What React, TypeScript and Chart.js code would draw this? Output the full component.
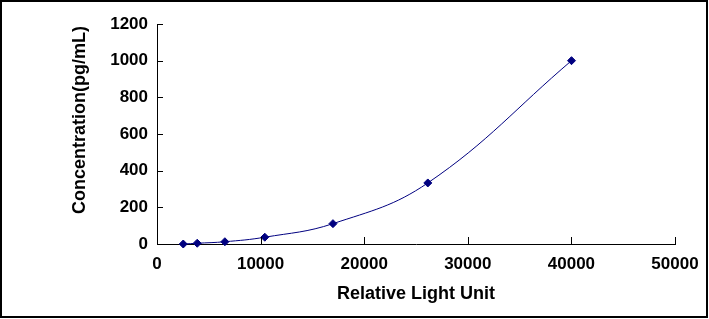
import React, { useEffect, useRef } from "react";
import { Chart, registerables } from "chart.js";

Chart.register(...registerables);

const rluValues = [2534, 3883, 6551, 10405, 16985, 26140, 40010];
const concentrations = [0, 4.1, 12.3, 37, 111, 333, 1000];
const xTickValues = [0, 10000, 20000, 30000, 40000, 50000];
const yTickValues = [0, 200, 400, 600, 800, 1000, 1200];
const xTitle = "Relative Light Unit";
const yTitle = "Concentration(pg/mL)";

const FONT = "'Liberation Sans', Arial, Helvetica, sans-serif";
const NAVY = "#000080";

const axisDecor = {
  id: "axisDecor",
  afterDraw(chart: any) {
    const ctx = chart.ctx;
    const xs = chart.scales.x;
    const ys = chart.scales.y;
    const area = chart.chartArea;
    ctx.save();
    ctx.strokeStyle = "#000";
    ctx.lineWidth = 1;
    ctx.beginPath();
    xs.ticks.forEach((t: any) => {
      const px = Math.round(xs.getPixelForValue(t.value)) + 0.5;
      ctx.moveTo(px, area.bottom);
      ctx.lineTo(px, area.bottom - 7);
    });
    ys.ticks.forEach((t: any) => {
      const py = Math.round(ys.getPixelForValue(t.value)) + 0.5;
      ctx.moveTo(area.left, py);
      ctx.lineTo(area.left + 6, py);
    });
    ctx.stroke();

    ctx.fillStyle = "#000";
    ctx.font = `bold 18px ${FONT}`;
    ctx.textAlign = "center";
    ctx.textBaseline = "alphabetic";
    ctx.fillText(xTitle, (area.left + area.right) / 2, area.bottom + 55);

    ctx.translate(area.left - 72, area.top + 96);
    ctx.rotate(-Math.PI / 2);
    ctx.fillText(yTitle, 0, 0);
    ctx.restore();
  },
};

export default function App() {
  const ref = useRef<HTMLCanvasElement | null>(null);

  useEffect(() => {
    document.body.style.margin = "0";
    const canvas = ref.current;
    if (!canvas) return;
    const chart = new Chart(canvas, {
      type: "scatter",
      data: {
        datasets: [
          {
            data: rluValues.map((x, i) => ({ x, y: concentrations[i] })),
            showLine: true,
            tension: 0.4,
            borderColor: NAVY,
            borderWidth: 1,
            backgroundColor: NAVY,
            pointBackgroundColor: NAVY,
            pointBorderColor: NAVY,
            pointStyle: "rectRot",
            pointRadius: 4,
            pointBorderWidth: 1,
            clip: false,
          } as any,
        ],
      },
      options: {
        animation: false,
        responsive: false,
        maintainAspectRatio: false,
        devicePixelRatio: 1,
        layout: { padding: { left: 0, top: 24, right: 34, bottom: 0 }, autoPadding: false } as any,
        plugins: {
          legend: { display: false },
          tooltip: { enabled: false },
        },
        scales: {
          x: {
            type: "linear",
            min: 0,
            max: 50000,
            afterBuildTicks: (scale: any) => {
              scale.ticks = xTickValues.map((v) => ({ value: v }));
            },
            afterFit: (scale: any) => {
              scale.height = 75;
            },
            grid: { display: false },
            border: { display: true, color: "#000", width: 1 },
            ticks: {
              color: "#000",
              font: { family: FONT, size: 17, weight: "bold" },
              padding: 2,
              maxRotation: 0,
              autoSkip: false,
              callback: (v: any) => String(v),
            },
          },
          y: {
            type: "linear",
            min: 0,
            max: 1200,
            afterBuildTicks: (scale: any) => {
              scale.ticks = yTickValues.map((v) => ({ value: v }));
            },
            afterFit: (scale: any) => {
              scale.width = 157;
            },
            grid: { display: false },
            border: { display: true, color: "#000", width: 1 },
            ticks: {
              color: "#000",
              font: { family: FONT, size: 17, weight: "bold" },
              padding: 1,
              autoSkip: false,
              callback: (v: any) => String(v),
            },
          },
        },
      },
      plugins: [axisDecor],
    });
    return () => chart.destroy();
  }, []);

  return (
    <div style={{ position: "relative", width: 709, height: 319, background: "#fff" }}>
      <canvas ref={ref} width={709} height={319} style={{ position: "absolute", left: 0, top: 0, width: 709, height: 319 }} />
      <div
        style={{
          position: "absolute",
          left: 0,
          top: 0,
          width: 708,
          height: 318,
          boxSizing: "border-box",
          border: "2px solid #000",
          pointerEvents: "none",
        }}
      />
    </div>
  );
}
